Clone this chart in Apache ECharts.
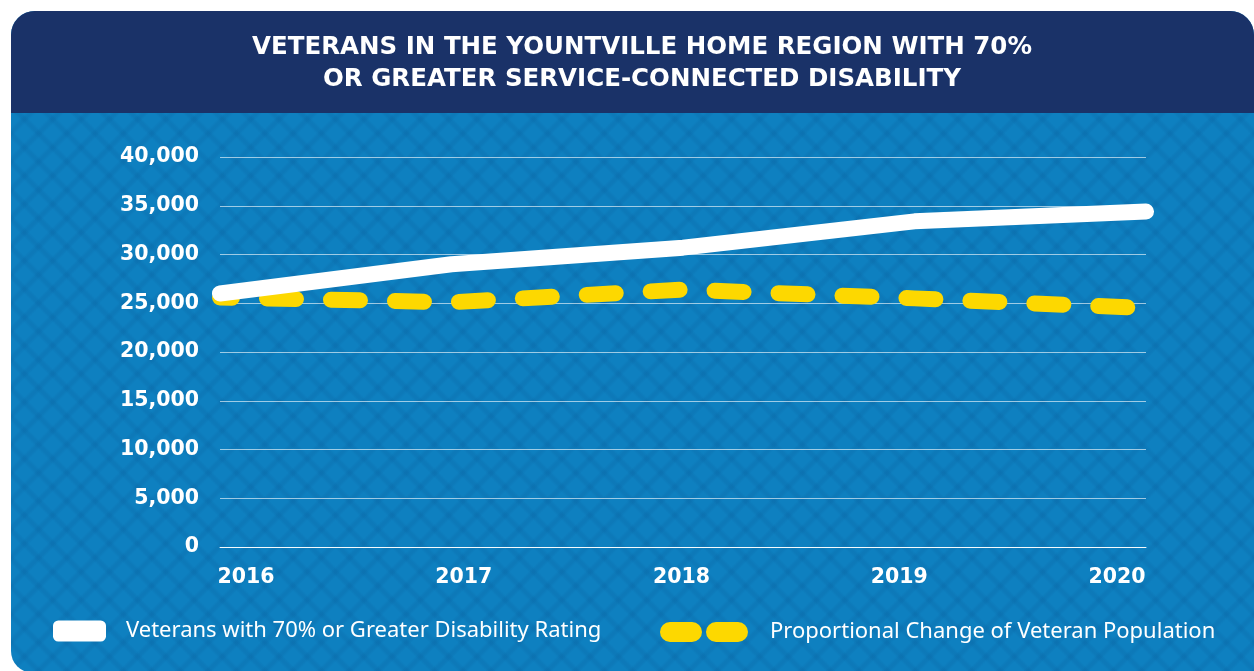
<!DOCTYPE html>
<html>
<head>
<meta charset="utf-8">
<script src="https://cdn.jsdelivr.net/npm/echarts@6/dist/echarts.min.js"></script>
<style>
html,body{margin:0;padding:0;width:1254px;height:671px;overflow:hidden;background:#fff;}
#card{position:absolute;left:11px;top:11px;width:1243px;height:662px;border-radius:24px 24px 0 22px;overflow:hidden;
 background-color:#0e80c0;
 background-image:
  repeating-linear-gradient(45deg, rgba(0,60,120,0.10) 0 2px, rgba(0,0,0,0) 5px 17px, rgba(0,60,120,0.10) 20px),
  repeating-linear-gradient(-45deg, rgba(0,60,120,0.10) 0 2px, rgba(0,0,0,0) 5px 17px, rgba(0,60,120,0.10) 20px);}
#bar{position:absolute;left:0;top:0;width:100%;height:102px;background:#1a3268;}
#chart{position:absolute;left:0;top:0;width:1254px;height:671px;}
</style>
</head>
<body>
<div id="card"><div id="bar"></div></div>
<div id="chart"></div>
<script>
const titleText = 'VETERANS IN THE YOUNTVILLE HOME REGION WITH 70%\nOR GREATER SERVICE-CONNECTED DISABILITY';
const years = ['2016', '2017', '2018', '2019', '2020'];
const seriesNames = ['Veterans with 70% or Greater Disability Rating', 'Proportional Change of Veteran Population'];
const veterans70 = [26000, 29000, 30700, 33400, 34400];
const proportional = [25600, 25100, 26400, 25500, 24500];
const yMin = 0, yMax = 40000, yStep = 5000;

const chart = echarts.init(document.getElementById('chart'), null, {renderer: 'canvas'});
const labelFont = 'DejaVu Sans';
const option = {
  backgroundColor: 'transparent',
  animation: false,
  title: {
    text: titleText,
    left: 637, top: 27, textAlign: 'center',
    textStyle: {color: '#ffffff', fontFamily: labelFont, fontWeight: 'bold', fontSize: 24.5, lineHeight: 32}
  },
  legend: [
    {
      data: [{name: seriesNames[0], icon: 'roundRect'}],
      left: 53, top: 620, padding: 0, itemWidth: 53, itemHeight: 21, selectedMode: false,
      textStyle: {color: '#ffffff', fontFamily: 'Noto Sans', fontSize: 22, padding: [0, 0, 0, 15]}
    },
    {
      data: [{name: seriesNames[1], icon: 'path://M10,0 H32 A10,10 0 0 1 32,20 H10 A10,10 0 0 1 10,0 Z M56,0 H78 A10,10 0 0 1 78,20 H56 A10,10 0 0 1 56,0 Z'}],
      left: 660, top: 621, padding: 0, itemWidth: 88, itemHeight: 20, selectedMode: false,
      textStyle: {color: '#ffffff', fontFamily: 'Noto Sans', fontSize: 22, padding: [0, 0, 0, 17]}
    }
  ],
  grid: [
    {left: 220, right: 108, top: 157, bottom: 124},
    {left: 246, right: 137, top: 157, bottom: 124}
  ],
  xAxis: [
    {
      type: 'category', data: years, boundaryGap: false, gridIndex: 0,
      axisLine: {show: true, lineStyle: {color: 'rgba(255,255,255,0.9)', width: 1}},
      axisTick: {show: false}, axisLabel: {show: false}, splitLine: {show: false}
    },
    {
      type: 'category', data: years, boundaryGap: false, gridIndex: 1,
      axisLine: {show: false}, axisTick: {show: false}, splitLine: {show: false},
      axisLabel: {color: '#ffffff', fontFamily: labelFont, fontWeight: 'bold', fontSize: 20.5, margin: 20}
    }
  ],
  yAxis: [
    {
      type: 'value', min: yMin, max: yMax, interval: yStep, gridIndex: 0,
      axisLine: {show: false}, axisTick: {show: false},
      splitLine: {lineStyle: {color: 'rgba(255,255,255,0.6)', width: 1}},
      axisLabel: {color: '#ffffff', fontFamily: labelFont, fontWeight: 'bold', fontSize: 20.5, margin: 21}
    },
    {type: 'value', gridIndex: 1, show: false, min: yMin, max: yMax}
  ],
  series: [
    {
      name: seriesNames[1], type: 'line', data: proportional, xAxisIndex: 0, yAxisIndex: 0,
      symbol: 'none', color: '#fdd800', z: 2,
      itemStyle: {color: '#fdd800'},
      lineStyle: {color: '#fdd800', width: 16, type: [29, 35], dashOffset: 17, cap: 'round', join: 'round'}
    },
    {
      name: seriesNames[0], type: 'line', data: veterans70, xAxisIndex: 0, yAxisIndex: 0,
      symbol: 'none', color: '#ffffff', z: 3,
      itemStyle: {color: '#ffffff'},
      lineStyle: {color: '#ffffff', width: 16, cap: 'round', join: 'round'}
    }
  ]
};
chart.setOption(option);
</script>
</body>
</html>
